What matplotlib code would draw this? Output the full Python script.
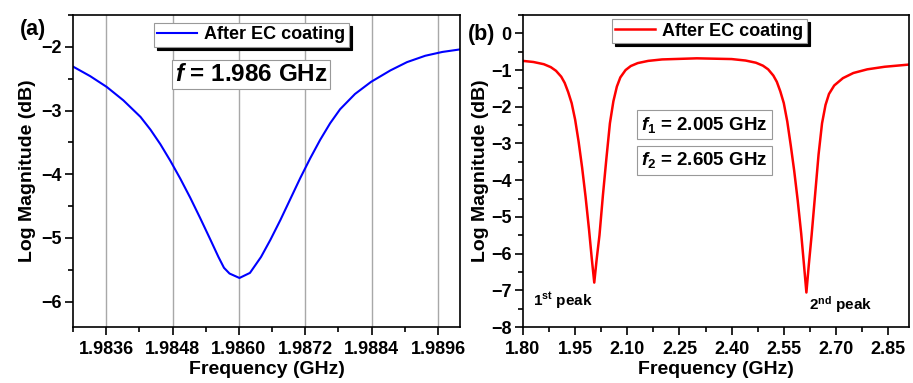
import numpy as np
import matplotlib
matplotlib.use("Agg")
import matplotlib.pyplot as plt
from matplotlib.ticker import MultipleLocator, FormatStrFormatter

plt.rcParams['font.family'] = ['Liberation Sans', 'DejaVu Sans']
plt.rcParams['font.weight'] = 'bold'
plt.rcParams['axes.labelweight'] = 'bold'
plt.rcParams['mathtext.fontset'] = 'custom'
plt.rcParams['mathtext.rm'] = 'Liberation Sans:bold'
plt.rcParams['mathtext.it'] = 'Liberation Sans:bold:italic'
plt.rcParams['mathtext.bf'] = 'Liberation Sans:bold'

# panel (a): single resonance after EC coating
freq_a = [1.98300, 1.98331, 1.98361, 1.98391, 1.98422, 1.98440, 1.98458,
          1.98476, 1.98494, 1.98512, 1.98530, 1.98548, 1.98563, 1.98573,
          1.98583, 1.98601, 1.98620, 1.98640, 1.98657, 1.98675, 1.98693,
          1.98711, 1.98729, 1.98747, 1.98765, 1.98783, 1.98810, 1.98839,
          1.98874, 1.98904, 1.98937, 1.98968, 1.99000]
mag_a = [-2.31, -2.46, -2.63, -2.84, -3.10, -3.30, -3.53,
         -3.79, -4.07, -4.37, -4.69, -5.02, -5.30, -5.47,
         -5.56, -5.63, -5.55, -5.30, -5.03, -4.72, -4.39,
         -4.06, -3.75, -3.46, -3.20, -2.98, -2.74, -2.55,
         -2.37, -2.24, -2.14, -2.08, -2.04]

# panel (b): dual band response
freq_b = [1.80, 1.83, 1.86, 1.88, 1.895, 1.91, 1.92, 1.93, 1.94, 1.95,
          1.96, 1.97, 1.98, 1.99, 1.998, 2.005, 2.012, 2.02, 2.03, 2.04,
          2.05, 2.06, 2.07, 2.08, 2.095, 2.11, 2.13, 2.16, 2.20, 2.30,
          2.40, 2.44, 2.47, 2.49, 2.505, 2.52, 2.53, 2.54, 2.55, 2.56,
          2.57, 2.58, 2.59, 2.60, 2.608, 2.615, 2.622, 2.63, 2.64, 2.65,
          2.66, 2.67, 2.68, 2.695, 2.72, 2.75, 2.79, 2.84, 2.91]
mag_b = [-0.75, -0.78, -0.84, -0.92, -1.02, -1.18, -1.35, -1.60, -1.90, -2.35,
         -2.95, -3.65, -4.45, -5.35, -6.15, -6.79, -6.15, -5.50, -4.40, -3.40,
         -2.45, -1.85, -1.45, -1.20, -1.00, -0.89, -0.81, -0.75, -0.71, -0.68,
         -0.70, -0.74, -0.80, -0.88, -0.98, -1.15, -1.32, -1.58, -1.90, -2.40,
         -3.05, -3.75, -4.55, -5.45, -6.30, -7.06, -6.30, -5.50, -4.40, -3.30,
         -2.45, -1.95, -1.65, -1.42, -1.22, -1.08, -0.98, -0.91, -0.85]

fig = plt.figure(figsize=(9.13, 3.83), dpi=100)
ax1 = fig.add_axes([0.0800, 0.1462, 0.4239, 0.8146])
ax2 = fig.add_axes([0.5728, 0.1462, 0.4228, 0.8146])

shadow = {'color': 'black', 'alpha': 1}

# ---- panel (a)
ax1.plot(freq_a, mag_a, color='#0000ff', lw=1.5, label='After EC coating')
ax1.set_xlim(1.9830, 1.9900)
ax1.set_ylim(-6.4, -1.5)
ax1.xaxis.set_minor_locator(MultipleLocator(0.0006))
ax1.set_xticks([1.9836, 1.9848, 1.9860, 1.9872, 1.9884, 1.9896])
ax1.xaxis.set_major_formatter(FormatStrFormatter('%.4f'))
ax1.yaxis.set_major_locator(MultipleLocator(1))
ax1.yaxis.set_minor_locator(MultipleLocator(0.5))
ax1.grid(axis='x', color='#a8a8a8', lw=1)
ax1.set_xlabel('Frequency (GHz)', fontsize=14, labelpad=2)
ax1.set_ylabel('Log Magnitude (dB)', fontsize=14, labelpad=4)
leg = ax1.legend(loc='upper center', bbox_to_anchor=(0.461, 0.975), fontsize=13,
                 fancybox=False, shadow=shadow, edgecolor='#999999', framealpha=1,
                 borderpad=0.2, borderaxespad=0, handlelength=2.2, handletextpad=0.4)
leg.get_frame().set_linewidth(0.8)
ax1.text(0.460, 0.808, r'$f$ = 1.986 GHz', transform=ax1.transAxes, fontsize=17.5,
         ha='center', va='center',
         bbox=dict(boxstyle='square,pad=0.12', fc='white', ec='#999999', lw=0.8))

# ---- panel (b)
ax2.plot(freq_b, mag_b, color='#ff0000', lw=1.8, label='After EC coating')
ax2.set_xlim(1.80, 2.91)
ax2.set_ylim(-8, 0.5)
ax2.xaxis.set_major_locator(MultipleLocator(0.15))
ax2.xaxis.set_minor_locator(MultipleLocator(0.075))
ax2.xaxis.set_major_formatter(FormatStrFormatter('%.2f'))
ax2.yaxis.set_major_locator(MultipleLocator(1))
ax2.yaxis.set_minor_locator(MultipleLocator(0.5))
ax2.set_xlabel('Frequency (GHz)', fontsize=14, labelpad=2)
ax2.set_ylabel('Log Magnitude (dB)', fontsize=14, labelpad=2)
leg2 = ax2.legend(loc='upper center', bbox_to_anchor=(0.483, 0.987), fontsize=13,
                  fancybox=False, shadow=shadow, edgecolor='#999999', framealpha=1,
                  borderpad=0.2, borderaxespad=0, handlelength=2.2, handletextpad=0.4)
leg2.get_frame().set_linewidth(0.8)
box = dict(boxstyle='square,pad=0.22', fc='white', ec='#999999', lw=0.8)
ax2.text(0.470, 0.649, r'$f_{\mathit{1}}$ = 2.005 GHz', transform=ax2.transAxes,
         fontsize=13.5, ha='center', va='center', bbox=box)
ax2.text(0.470, 0.534, r'$f_{\mathit{2}}$ = 2.605 GHz', transform=ax2.transAxes,
         fontsize=13.5, ha='center', va='center', bbox=box)
ax2.text(1.828, -7.28, r'1$^{\mathrm{st}}$ peak', fontsize=11, ha='left', va='center')
ax2.text(2.622, -7.38, r'2$^{\mathrm{nd}}$ peak', fontsize=11, ha='left', va='center')

for ax in (ax1, ax2):
    ax.tick_params(which='major', direction='out', length=6, width=1.2,
                   labelsize=13, pad=2)
    ax.tick_params(which='minor', direction='out', length=3.5, width=1.2)
    ax.tick_params(axis='x', which='major', pad=4)
    for s in ax.spines.values():
        s.set_linewidth(1.2)
    for lab in ax.get_xticklabels() + ax.get_yticklabels():
        lab.set_fontweight('bold')

fig.text(0.022, 0.922, '(a)', fontsize=15.5, fontweight='bold', va='center', ha='left')
fig.text(0.512, 0.911, '(b)', fontsize=15.5, fontweight='bold', va='center', ha='left')

fig.savefig('out.png', dpi=100)
